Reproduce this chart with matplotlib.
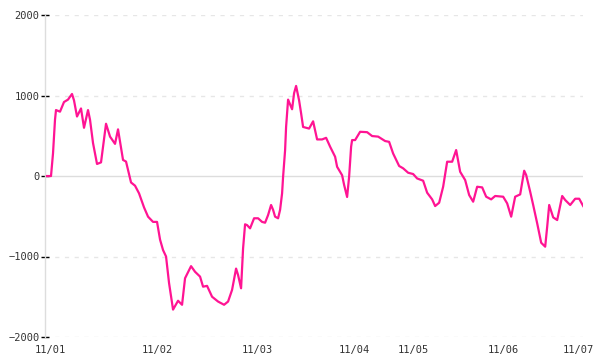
import matplotlib
matplotlib.use('Agg')
import matplotlib.pyplot as plt

# sample position (time steps from start) and value of the series
steps = [0, 4, 6, 8, 9, 13, 17, 21, 25, 27, 30, 34, 37, 41, 43, 46, 50, 54, 59, 63,
         68, 71, 76, 79, 84, 88, 92, 97, 101, 106, 110, 113, 116, 119, 122, 126, 131,
         135, 138, 144, 148, 153, 156, 160, 165, 171, 177, 181, 185, 189, 191, 194,
         196, 198, 200, 203, 207, 211, 215, 218, 221, 224, 226, 228, 231, 233, 235,
         236, 238, 239, 241, 245, 247, 249, 252, 254, 256, 262, 266, 270, 275, 279,
         283, 288, 290, 295, 297, 300, 302, 304, 305, 308, 313, 320, 325, 331, 338,
         342, 346, 352, 356, 361, 366, 370, 376, 380, 385, 388, 392, 396, 400, 405,
         409, 413, 418, 422, 426, 430, 435, 439, 444, 448, 456, 460, 464, 468, 473,
         477, 479, 483, 486, 490, 494, 498, 500, 502, 506, 510, 515, 518, 523, 528,
         532, 536]
values = [0, 0, 280, 700, 820, 800, 920, 950, 1020, 940, 740, 840, 600, 820, 700, 410,
          150, 170, 650, 490, 400, 580, 200, 180, -80, -120, -215, -390, -505, -570,
          -570, -790, -920, -1000, -1330, -1660, -1550, -1600, -1270, -1120, -1190,
          -1250, -1375, -1365, -1500, -1560, -1600, -1560, -1415, -1150, -1230, -1395,
          -900, -600, -610, -650, -525, -525, -570, -580, -485, -360, -420, -505, -525,
          -420, -215, -10, 320, 610, 950, 830, 1030, 1120, 940, 780, 610, 590, 680, 455,
          455, 475, 365, 240, 115, 10, -110, -260, -10, 365, 447, 447, 550, 545, 497,
          490, 435, 425, 280, 125, 96, 41, 25, -30, -58, -207, -290, -373, -332, -133,
          178, 178, 323, 53, -50, -236, -319, -133, -141, -257, -290, -248, -257, -340,
          -505, -257, -228, 66, 12, -195, -360, -588, -829, -878, -630, -360, -514,
          -547, -248, -298, -360, -282, -282, -373]

tick_steps = [3, 110, 210, 307, 366, 456, 531]
tick_labels = ['11/01', '11/02', '11/03', '11/04', '11/05', '11/06', '11/07']
y_ticks = [-2000, -1000, 0, 1000, 2000]

plt.rcParams['font.family'] = 'DejaVu Sans Mono'

fig = plt.figure(figsize=(6, 3.6), dpi=100)
ax = fig.add_axes([0.075, 0.064, 0.897, 0.894])

for y in y_ticks:
    if y == 0:
        ax.axhline(y, color='#dddddd', lw=1, zorder=1)
    else:
        ax.axhline(y, color='#e6e6e6', lw=1, ls=(0, (3, 4)), zorder=1)

ax.plot(steps, values, color='#ff1493', lw=1.6, zorder=3)

ax.set_xlim(-2, 536)
ax.set_ylim(-2000, 2000)
ax.set_yticks(y_ticks)
ax.set_yticklabels([str(y).replace('-', '\u2212') for y in y_ticks])
ax.set_xticks(tick_steps)
ax.set_xticklabels(tick_labels)

for s in ['top', 'right', 'bottom']:
    ax.spines[s].set_visible(False)
ax.spines['left'].set_color('#dddddd')
ax.spines['left'].set_linewidth(1)

ax.tick_params(axis='y', direction='inout', length=6, width=1, color='black',
               labelsize=7.5, labelcolor='#333333', pad=1)
ax.tick_params(axis='x', length=0, labelsize=7.5, labelcolor='#333333', pad=6)

fig.savefig('out.png', dpi=100)
